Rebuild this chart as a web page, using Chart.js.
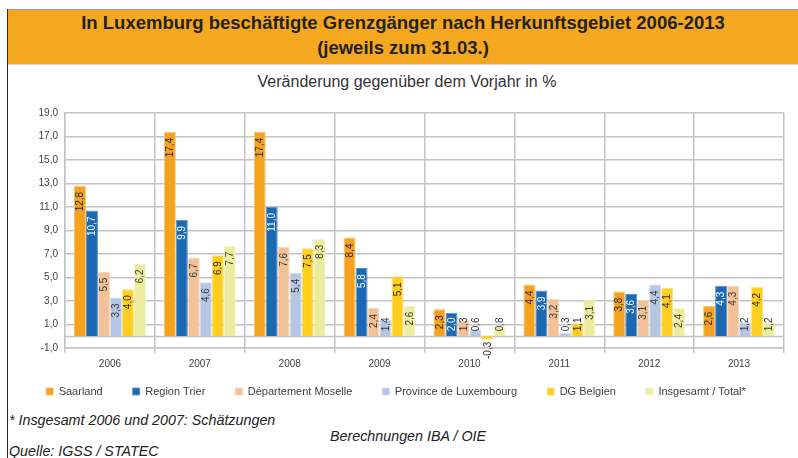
<!DOCTYPE html>
<html>
<head>
<meta charset="utf-8">
<script src="https://cdn.jsdelivr.net/npm/chart.js@4"></script>
<style>
  body { margin: 0; width: 798px; height: 458px; overflow: hidden; background: #fff; font-family: "Liberation Sans", Arial, sans-serif; position: relative; }
  #frameLeft { position: absolute; left: 7px; top: 9px; width: 1px; height: 449px; background: #2a2a2a; }
  #frameTop { position: absolute; left: 7px; top: 9px; width: 791px; height: 1px; background: #9a9a9a; }
  #header { position: absolute; left: 8px; top: 10px; width: 790px; height: 55px; background: #F5A81F; border-bottom: 1px solid #d8d8d8; text-align: center; color: #222; font-weight: bold; font-size: 18.5px; line-height: 25px; padding-top: 0px; box-sizing: border-box; }
  #subtitle { position: absolute; left: 8px; top: 73px; width: 798px; text-align: center; font-size: 16px; color: #333; }
  #wrap { position: absolute; left: 8px; top: 67px; width: 790px; height: 356px; }
  .note { position: absolute; font-style: italic; font-size: 14.3px; color: #222; white-space: nowrap; }
</style>
</head>
<body>
<div id="frameTop"></div>
<div id="frameLeft"></div>
<div id="header">In Luxemburg beschäftigte Grenzgänger nach Herkunftsgebiet 2006-2013<br>(jeweils zum 31.03.)</div>
<div id="subtitle">Veränderung gegenüber dem Vorjahr in %</div>
<div class="note" style="left:9px; top:412px;">* Insgesamt 2006 und 2007: Schätzungen</div>
<div class="note" style="left:330px; top:428px;">Berechnungen IBA / OIE</div>
<div class="note" style="left:9px; top:443px;">Quelle: IGSS / STATEC</div>
<div id="wrap"><canvas id="chart" width="790" height="356"></canvas></div>

<script>
const years = ['2006', '2007', '2008', '2009', '2010', '2011', '2012', '2013'];
const saarland = [12.8, 17.4, 17.4, 8.4, 2.3, 4.4, 3.8, 2.6];
const regionTrier = [10.7, 9.9, 11.0, 5.8, 2.0, 3.9, 3.6, 4.3];
const moselle = [5.5, 6.7, 7.6, 2.4, 1.3, 3.2, 3.1, 4.3];
const provinceLux = [3.3, 4.6, 5.4, 1.4, 0.6, 0.3, 4.4, 1.2];
const dgBelgien = [4.0, 6.9, 7.5, 5.1, -0.3, 1.1, 4.1, 4.2];
const total = [6.2, 7.7, 8.3, 2.6, 0.8, 3.1, 2.4, 1.2];

const fmt = v => v.toFixed(1).replace('.', ',');

// bar labels, rotated, placed at the inner end of each bar
const barLabels = {
  id: 'barLabels',
  afterDatasetsDraw(chart) {
    const ctx = chart.ctx;
    const zeroY = chart.scales.y.getPixelForValue(0);
    ctx.save();
    ctx.font = '10px "Liberation Sans", Arial, sans-serif';
    ctx.textBaseline = 'middle';
    chart.data.datasets.forEach((ds, i) => {
      const meta = chart.getDatasetMeta(i);
      meta.data.forEach((bar, j) => {
        const v = ds.data[j];
        const txt = fmt(v);
        const w = ctx.measureText(txt).width;
        let start; // lower end of the text (text reads upwards)
        if (v >= 0) {
          start = bar.y + 6 + w;
          if (start > zeroY - 5) start = zeroY - 5;
        } else {
          start = bar.y + 2 + w;
        }
        ctx.save();
        ctx.translate(bar.x, start);
        ctx.rotate(-Math.PI / 2);
        ctx.textAlign = 'left';
        ctx.fillStyle = ds.labelColor;
        ctx.fillText(txt, 0, 0.5);
        ctx.restore();
      });
    });
    ctx.restore();
  }
};

// line at zero
const zeroLine = {
  id: 'zeroLine',
  beforeDatasetsDraw(chart) {
    const {ctx, chartArea, scales} = chart;
    const y = Math.round(scales.y.getPixelForValue(0)) + 0.5;
    ctx.save();
    ctx.strokeStyle = '#c4c4c4';
    ctx.lineWidth = 1.5;
    ctx.beginPath();
    ctx.moveTo(chartArea.left, y);
    ctx.lineTo(chartArea.right, y);
    ctx.stroke();
    ctx.restore();
  }
};

// pull the legend a bit closer to the axis labels
const legendShift = {
  id: 'legendShift',
  afterLayout(chart) {
    const lg = chart.legend;
    if (lg) { lg.top -= 16; lg.bottom -= 16; }
  }
};

const ctx = document.getElementById('chart').getContext('2d');
new Chart(ctx, {
  type: 'bar',
  data: {
    labels: years,
    datasets: [
      { label: 'Saarland', data: saarland, backgroundColor: '#F5A31F', borderColor: '#F8C36E', labelColor: '#2b2b2b' },
      { label: 'Region Trier', data: regionTrier, backgroundColor: '#1C69B3', borderColor: '#5A93CC', labelColor: '#ffffff' },
      { label: 'Département Moselle', data: moselle, backgroundColor: '#F2C198', borderColor: '#F7D8BD', labelColor: '#3a3a3a' },
      { label: 'Province de Luxembourg', data: provinceLux, backgroundColor: '#B5C6E2', borderColor: '#D3DEEE', labelColor: '#3a3a3a' },
      { label: 'DG Belgien', data: dgBelgien, backgroundColor: '#FFCE1E', borderColor: '#FFE07A', labelColor: '#2b2b2b' },
      { label: 'Insgesamt / Total*', data: total, backgroundColor: '#EBEC9E', borderColor: '#F4F4C6', labelColor: '#3a3a3a' }
    ].map(d => Object.assign(d, { borderWidth: 1, categoryPercentage: 0.8, barPercentage: 1.0 }))
  },
  options: {
    responsive: false,
    devicePixelRatio: 1,
    animation: false,
    layout: { padding: { top: 46, right: 14, left: 0, bottom: 0 } },
    plugins: {
      title: { display: false },
      tooltip: { enabled: false },
      legend: {
        position: 'bottom',
        labels: {
          boxWidth: 7,
          boxHeight: 7,
          padding: 30,
          color: '#404040',
          font: { family: '"Liberation Sans", Arial, sans-serif', size: 11 }
        }
      }
    },
    scales: {
      x: {
        grid: { color: '#c4c4c4', lineWidth: 1.5, tickLength: 5 },
        border: { color: '#c4c4c4', width: 1.5 },
        ticks: { color: '#404040', padding: 5, font: { family: '"Liberation Sans", Arial, sans-serif', size: 10 } },
        afterFit(scale) { scale.height = 24; }
      },
      y: {
        min: -1,
        max: 19,
        grid: { color: '#c4c4c4', lineWidth: 1.5, drawTicks: false },
        border: { color: '#c4c4c4', width: 1.5 },
        ticks: {
          stepSize: 2,
          padding: 7,
          color: '#404040',
          font: { family: '"Liberation Sans", Arial, sans-serif', size: 10 },
          callback: v => fmt(v)
        },
        afterFit(scale) { scale.width = 57; }
      }
    }
  },
  plugins: [zeroLine, barLabels, legendShift]
});
</script>
</body>
</html>
